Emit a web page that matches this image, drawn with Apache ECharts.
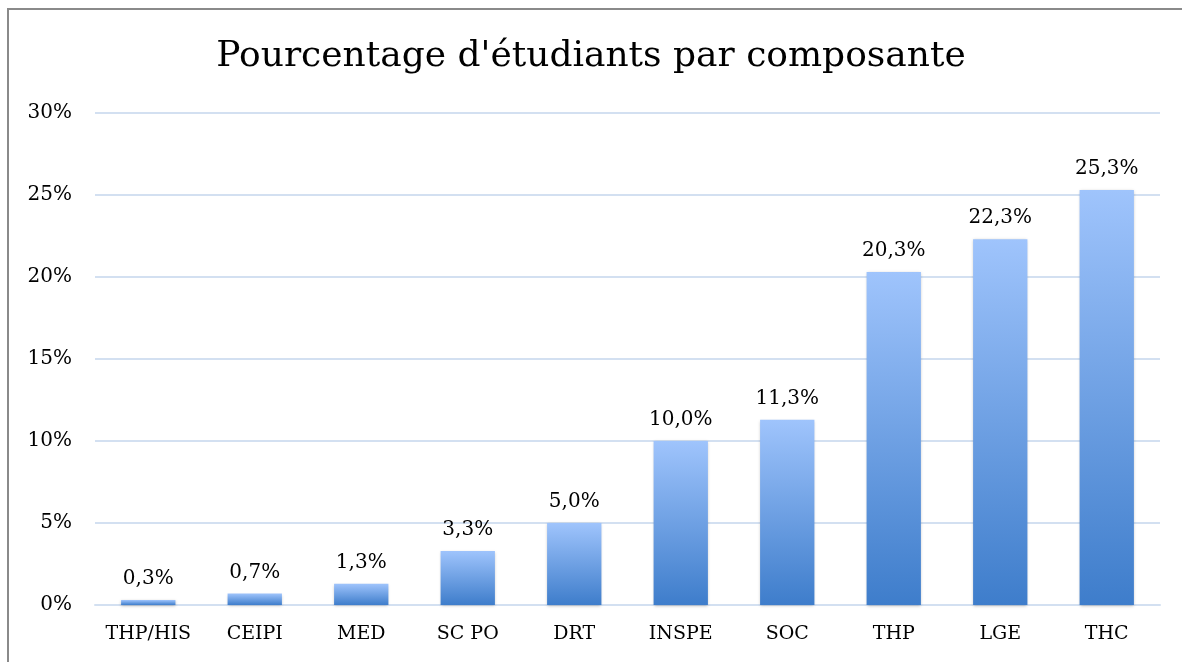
<!DOCTYPE html>
<html>
<head>
<meta charset="utf-8">
<script src="https://cdn.jsdelivr.net/npm/echarts@6/dist/echarts.min.js"></script>
<style>
  html, body { margin: 0; padding: 0; background: #fff; overflow: hidden; }
  #frame { position: absolute; left: 7px; top: 8px; width: 1200px; height: 700px; border: 2px solid #8a8a8a; box-sizing: border-box; }
  #chart { position: absolute; left: 0; top: 0; width: 1182px; height: 662px; }
</style>
</head>
<body>
<div id="frame"></div>
<div id="chart"></div>
<script>
const categories = ['THP/HIS', 'CEIPI', 'MED', 'SC PO', 'DRT', 'INSPE', 'SOC', 'THP', 'LGE', 'THC']
const values = [0.3, 0.7, 1.3, 3.3, 5.0, 10.0, 11.3, 20.3, 22.3, 25.3]

const font = 'DejaVu Serif'
const chart = echarts.init(document.getElementById('chart'))
chart.setOption({
  animation: false,
  title: {
    text: "Pourcentage d'étudiants par composante",
    left: 'center',
    top: 34,
    textStyle: { fontFamily: font, fontSize: 36, fontWeight: 'normal', color: '#000' }
  },
  grid: { left: 95, right: 22, top: 113, bottom: 57 },
  xAxis: {
    type: 'category',
    data: categories,
    axisLine: { lineStyle: { color: '#d3e0f1', width: 2 } },
    axisTick: { show: false },
    axisLabel: { interval: 0, hideOverlap: false, fontFamily: font, fontSize: 19, color: '#000', margin: 20 }
  },
  yAxis: {
    type: 'value',
    min: 0,
    max: 30,
    interval: 5,
    axisLine: { show: false },
    axisTick: { show: false },
    splitLine: { lineStyle: { color: '#d3e0f1', width: 2 } },
    axisLabel: { fontFamily: font, fontSize: 20, color: '#000', margin: 23, formatter: '{value}%' }
  },
  series: [{
    type: 'bar',
    data: values,
    barWidth: '51%',
    itemStyle: {
      color: new echarts.graphic.LinearGradient(0, 0, 0, 1, [
        { offset: 0, color: '#9fc4fc' },
        { offset: 1, color: '#3e7dcb' }
      ]),
      shadowColor: 'rgba(0,0,0,0.25)',
      shadowBlur: 3,
      shadowOffsetY: 1
    },
    label: {
      show: true,
      position: 'top',
      distance: 11,
      fontFamily: font,
      fontSize: 20,
      color: '#000',
      formatter: p => p.value.toFixed(1).replace('.', ',') + '%'
    }
  }]
})
</script>
</body>
</html>
